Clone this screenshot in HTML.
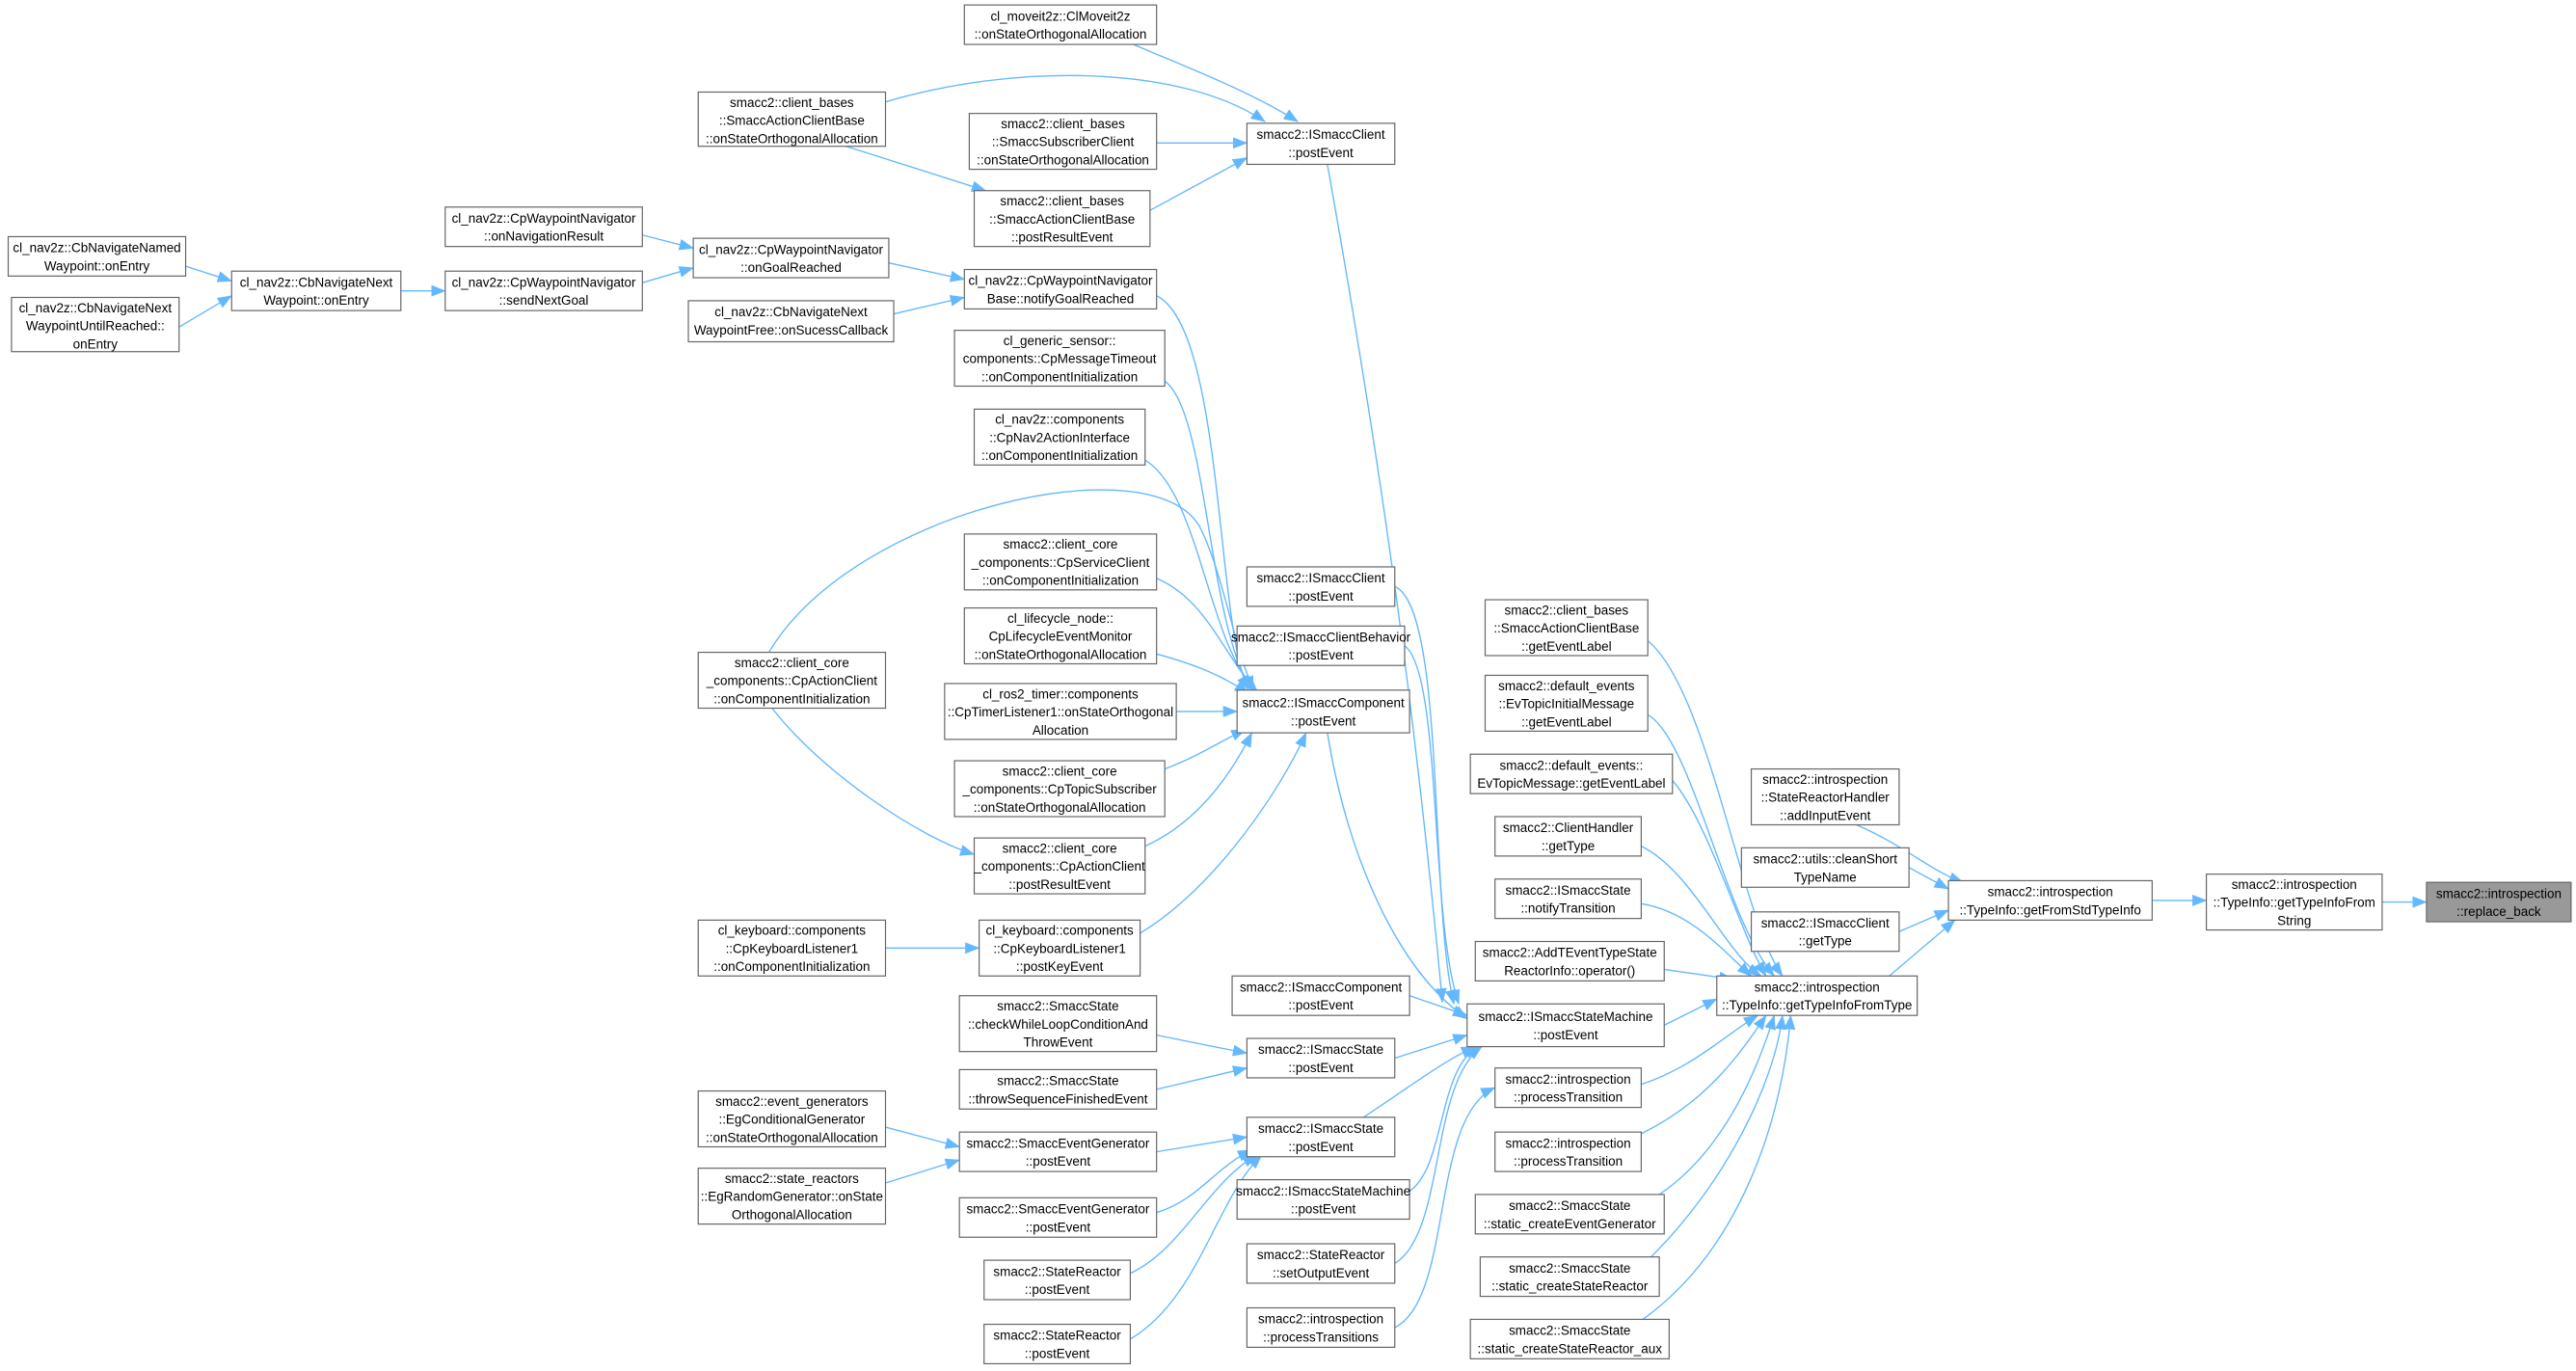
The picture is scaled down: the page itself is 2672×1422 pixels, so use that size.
<!DOCTYPE html>
<html><head><meta charset="utf-8"><style>
html,body{margin:0;padding:0;background:#fff;}
svg{display:block;}
rect{fill:#fff;stroke:#666;stroke-width:0.7;}
rect.g{fill:#999;}
text{font-family:"Liberation Sans",Arial,sans-serif;font-size:7.9px;fill:#000;text-anchor:middle;}
path.e{fill:none;stroke:#63b8ff;stroke-width:0.8;marker-end:url(#a);}
</style></head><body>
<svg width="2672" height="1422" viewBox="0 0 1568 834.4" xmlns="http://www.w3.org/2000/svg">
<defs><marker id="a" markerWidth="9" markerHeight="7" refX="8.5" refY="3.5" orient="auto" markerUnits="userSpaceOnUse"><path d="M0,0 L9,3.5 L0,7z" fill="#63b8ff"/></marker></defs>

<path class="e" d="M113,162 L141,171"/>
<path class="e" d="M109,199 L141,180"/>
<path class="e" d="M244,177 L271,177"/>
<path class="e" d="M391,143 L422,151"/>
<path class="e" d="M391,172 L422,163"/>
<path class="e" d="M541,160 L587,170"/>
<path class="e" d="M544,191 L587,181"/>
<path class="e" d="M690,27 C720,40 760,55 790,74"/>
<path class="e" d="M539,62 C620,38 720,40 770,74"/>
<path class="e" d="M704,87 L759,87"/>
<path class="e" d="M700,128 L759,96"/>
<path class="e" d="M515,89 L600,116"/>
<path class="e" d="M808,100 C840,280 860,420 878,610"/>
<path class="e" d="M704,180 C745,200 740,380 760,420"/>
<path class="e" d="M709,232 C735,250 735,380 762,420"/>
<path class="e" d="M697,280 C730,300 735,390 764,420"/>
<path class="e" d="M468,397 C520,310 700,270 730,320 C745,350 750,390 763,420"/>
<path class="e" d="M704,352 C735,365 745,400 765,420"/>
<path class="e" d="M704,398 C730,405 745,412 760,422"/>
<path class="e" d="M716,433 L753,433"/>
<path class="e" d="M709,468 C730,460 745,450 758,444"/>
<path class="e" d="M697,515 C730,500 750,470 762,446"/>
<path class="e" d="M694,568 C740,540 780,480 795,446"/>
<path class="e" d="M470,431 C500,470 560,510 593,520"/>
<path class="e" d="M539,577 L596,577"/>
<path class="e" d="M808,446 C820,520 850,590 893,620"/>
<path class="e" d="M849,357 C880,370 870,550 885,611"/>
<path class="e" d="M855,393 C878,410 870,560 888,611"/>
<path class="e" d="M858,606 L893,618"/>
<path class="e" d="M849,644 L893,630"/>
<path class="e" d="M830,680 C860,660 880,645 898,637"/>
<path class="e" d="M858,725 C880,710 875,650 900,637"/>
<path class="e" d="M849,769 C880,750 870,660 902,637"/>
<path class="e" d="M849,808 C885,790 870,680 910,662"/>
<path class="e" d="M704,630 L759,641"/>
<path class="e" d="M704,663 L759,650"/>
<path class="e" d="M539,686 L584,698"/>
<path class="e" d="M539,720 L584,706"/>
<path class="e" d="M704,701 L759,692"/>
<path class="e" d="M704,738 C730,730 740,710 762,700"/>
<path class="e" d="M688,775 C720,760 735,720 765,703"/>
<path class="e" d="M688,815 C730,790 740,730 768,703"/>
<path class="e" d="M1013,624 L1045,608"/>
<path class="e" d="M1003,390 C1040,420 1060,560 1085,594"/>
<path class="e" d="M1003,435 C1030,450 1050,560 1080,594"/>
<path class="e" d="M1018,475 C1040,500 1060,570 1075,594"/>
<path class="e" d="M999,515 C1030,530 1050,580 1072,594"/>
<path class="e" d="M999,550 C1030,555 1050,580 1066,594"/>
<path class="e" d="M1013,590 L1055,596"/>
<path class="e" d="M999,660 C1030,650 1050,630 1070,618"/>
<path class="e" d="M999,690 C1040,670 1060,640 1075,618"/>
<path class="e" d="M1010,727 C1050,700 1070,650 1080,618"/>
<path class="e" d="M1005,765 C1050,720 1080,660 1085,618"/>
<path class="e" d="M1000,803 C1060,760 1085,680 1090,618"/>
<path class="e" d="M1150,594 L1190,560"/>
<path class="e" d="M1130,502 C1160,515 1175,530 1195,537"/>
<path class="e" d="M1162,528 L1186,541"/>
<path class="e" d="M1156,567 L1186,554"/>
<path class="e" d="M1310,548 L1343,548"/>
<path class="e" d="M1450,549 L1477,549"/>

<rect x="5" y="144" width="108" height="24"/><text x="59" y="153.5">cl_nav2z::CbNavigateNamed</text><text x="59" y="164.5">Waypoint::onEntry</text>
<rect x="7" y="181" width="102" height="33"/><text x="58" y="190">cl_nav2z::CbNavigateNext</text><text x="58" y="201">WaypointUntilReached::</text><text x="58" y="212">onEntry</text>
<rect x="141" y="165" width="103" height="24"/><text x="192.5" y="174.5">cl_nav2z::CbNavigateNext</text><text x="192.5" y="185.5">Waypoint::onEntry</text>
<rect x="271" y="126" width="120" height="24"/><text x="331" y="135.5">cl_nav2z::CpWaypointNavigator</text><text x="331" y="146.5">::onNavigationResult</text>
<rect x="271" y="165" width="120" height="24"/><text x="331" y="174.5">cl_nav2z::CpWaypointNavigator</text><text x="331" y="185.5">::sendNextGoal</text>
<rect x="422" y="145" width="119" height="24"/><text x="481.5" y="154.5">cl_nav2z::CpWaypointNavigator</text><text x="481.5" y="165.5">::onGoalReached</text>
<rect x="419" y="183" width="125" height="25"/><text x="481.5" y="192.5">cl_nav2z::CbNavigateNext</text><text x="481.5" y="203.5">WaypointFree::onSucessCallback</text>
<rect x="425" y="56" width="114" height="33"/><text x="482" y="65">smacc2::client_bases</text><text x="482" y="76">::SmaccActionClientBase</text><text x="482" y="87">::onStateOrthogonalAllocation</text>
<rect x="587" y="3" width="117" height="24"/><text x="645.5" y="12.5">cl_moveit2z::ClMoveit2z</text><text x="645.5" y="23.5">::onStateOrthogonalAllocation</text>
<rect x="759" y="75" width="90" height="25"/><text x="804" y="84.5">smacc2::ISmaccClient</text><text x="804" y="95.5">::postEvent</text>
<rect x="590" y="69" width="114" height="34"/><text x="647" y="78">smacc2::client_bases</text><text x="647" y="89">::SmaccSubscriberClient</text><text x="647" y="100">::onStateOrthogonalAllocation</text>
<rect x="593" y="116" width="107" height="34"/><text x="646.5" y="125">smacc2::client_bases</text><text x="646.5" y="136">::SmaccActionClientBase</text><text x="646.5" y="147">::postResultEvent</text>
<rect x="587" y="164" width="117" height="24"/><text x="645.5" y="173.5">cl_nav2z::CpWaypointNavigator</text><text x="645.5" y="184.5">Base::notifyGoalReached</text>
<rect x="581" y="201" width="128" height="34"/><text x="645" y="210">cl_generic_sensor::</text><text x="645" y="221">components::CpMessageTimeout</text><text x="645" y="232">::onComponentInitialization</text>
<rect x="593" y="249" width="104" height="34"/><text x="645" y="258">cl_nav2z::components</text><text x="645" y="269">::CpNav2ActionInterface</text><text x="645" y="280">::onComponentInitialization</text>
<rect x="587" y="325" width="117" height="34"/><text x="645.5" y="334">smacc2::client_core</text><text x="645.5" y="345">_components::CpServiceClient</text><text x="645.5" y="356">::onComponentInitialization</text>
<rect x="587" y="370" width="117" height="34"/><text x="645.5" y="379">cl_lifecycle_node::</text><text x="645.5" y="390">CpLifecycleEventMonitor</text><text x="645.5" y="401">::onStateOrthogonalAllocation</text>
<rect x="575" y="416" width="141" height="34"/><text x="645.5" y="425">cl_ros2_timer::components</text><text x="645.5" y="436">::CpTimerListener1::onStateOrthogonal</text><text x="645.5" y="447">Allocation</text>
<rect x="581" y="463" width="128" height="34"/><text x="645" y="472">smacc2::client_core</text><text x="645" y="483">_components::CpTopicSubscriber</text><text x="645" y="494">::onStateOrthogonalAllocation</text>
<rect x="593" y="510" width="104" height="34"/><text x="645" y="519">smacc2::client_core</text><text x="645" y="530">_components::CpActionClient</text><text x="645" y="541">::postResultEvent</text>
<rect x="596" y="560" width="98" height="34"/><text x="645" y="569">cl_keyboard::components</text><text x="645" y="580">::CpKeyboardListener1</text><text x="645" y="591">::postKeyEvent</text>
<rect x="425" y="397" width="114" height="34"/><text x="482" y="406">smacc2::client_core</text><text x="482" y="417">_components::CpActionClient</text><text x="482" y="428">::onComponentInitialization</text>
<rect x="425" y="560" width="114" height="34"/><text x="482" y="569">cl_keyboard::components</text><text x="482" y="580">::CpKeyboardListener1</text><text x="482" y="591">::onComponentInitialization</text>
<rect x="759" y="345" width="90" height="24"/><text x="804" y="354.5">smacc2::ISmaccClient</text><text x="804" y="365.5">::postEvent</text>
<rect x="753" y="381" width="102" height="24"/><text x="804" y="390.5">smacc2::ISmaccClientBehavior</text><text x="804" y="401.5">::postEvent</text>
<rect x="753" y="420" width="105" height="26"/><text x="805.5" y="430.5">smacc2::ISmaccComponent</text><text x="805.5" y="441.5">::postEvent</text>
<rect x="584" y="606" width="120" height="34"/><text x="644" y="615">smacc2::SmaccState</text><text x="644" y="626">::checkWhileLoopConditionAnd</text><text x="644" y="637">ThrowEvent</text>
<rect x="584" y="651" width="120" height="24"/><text x="644" y="660.5">smacc2::SmaccState</text><text x="644" y="671.5">::throwSequenceFinishedEvent</text>
<rect x="425" y="664" width="114" height="34"/><text x="482" y="673">smacc2::event_generators</text><text x="482" y="684">::EgConditionalGenerator</text><text x="482" y="695">::onStateOrthogonalAllocation</text>
<rect x="425" y="711" width="114" height="34"/><text x="482" y="720">smacc2::state_reactors</text><text x="482" y="731">::EgRandomGenerator::onState</text><text x="482" y="742">OrthogonalAllocation</text>
<rect x="750" y="594" width="108" height="24"/><text x="804" y="603.5">smacc2::ISmaccComponent</text><text x="804" y="614.5">::postEvent</text>
<rect x="759" y="632" width="90" height="24"/><text x="804" y="641.5">smacc2::ISmaccState</text><text x="804" y="652.5">::postEvent</text>
<rect x="584" y="689" width="120" height="24"/><text x="644" y="698.5">smacc2::SmaccEventGenerator</text><text x="644" y="709.5">::postEvent</text>
<rect x="759" y="680" width="90" height="24"/><text x="804" y="689.5">smacc2::ISmaccState</text><text x="804" y="700.5">::postEvent</text>
<rect x="584" y="729" width="120" height="24"/><text x="644" y="738.5">smacc2::SmaccEventGenerator</text><text x="644" y="749.5">::postEvent</text>
<rect x="599" y="767" width="89" height="24"/><text x="643.5" y="776.5">smacc2::StateReactor</text><text x="643.5" y="787.5">::postEvent</text>
<rect x="599" y="806" width="89" height="24"/><text x="643.5" y="815.5">smacc2::StateReactor</text><text x="643.5" y="826.5">::postEvent</text>
<rect x="753" y="718" width="105" height="24"/><text x="805.5" y="727.5">smacc2::ISmaccStateMachine</text><text x="805.5" y="738.5">::postEvent</text>
<rect x="759" y="757" width="90" height="24"/><text x="804" y="766.5">smacc2::StateReactor</text><text x="804" y="777.5">::setOutputEvent</text>
<rect x="759" y="796" width="90" height="24"/><text x="804" y="805.5">smacc2::introspection</text><text x="804" y="816.5">::processTransitions</text>
<rect x="893" y="611" width="120" height="26"/><text x="953" y="621.5">smacc2::ISmaccStateMachine</text><text x="953" y="632.5">::postEvent</text>
<rect x="904" y="365" width="99" height="34"/><text x="953.5" y="374">smacc2::client_bases</text><text x="953.5" y="385">::SmaccActionClientBase</text><text x="953.5" y="396">::getEventLabel</text>
<rect x="904" y="411" width="99" height="34"/><text x="953.5" y="420">smacc2::default_events</text><text x="953.5" y="431">::EvTopicInitialMessage</text><text x="953.5" y="442">::getEventLabel</text>
<rect x="895" y="459" width="123" height="24"/><text x="956.5" y="468.5">smacc2::default_events::</text><text x="956.5" y="479.5">EvTopicMessage::getEventLabel</text>
<rect x="910" y="497" width="89" height="24"/><text x="954.5" y="506.5">smacc2::ClientHandler</text><text x="954.5" y="517.5">::getType</text>
<rect x="910" y="535" width="89" height="24"/><text x="954.5" y="544.5">smacc2::ISmaccState</text><text x="954.5" y="555.5">::notifyTransition</text>
<rect x="898" y="573" width="115" height="24"/><text x="955.5" y="582.5">smacc2::AddTEventTypeState</text><text x="955.5" y="593.5">ReactorInfo::operator()</text>
<rect x="910" y="650" width="89" height="24"/><text x="954.5" y="659.5">smacc2::introspection</text><text x="954.5" y="670.5">::processTransition</text>
<rect x="910" y="689" width="89" height="24"/><text x="954.5" y="698.5">smacc2::introspection</text><text x="954.5" y="709.5">::processTransition</text>
<rect x="898" y="727" width="115" height="24"/><text x="955.5" y="736.5">smacc2::SmaccState</text><text x="955.5" y="747.5">::static_createEventGenerator</text>
<rect x="901" y="765" width="109" height="24"/><text x="955.5" y="774.5">smacc2::SmaccState</text><text x="955.5" y="785.5">::static_createStateReactor</text>
<rect x="895" y="803" width="121" height="24"/><text x="955.5" y="812.5">smacc2::SmaccState</text><text x="955.5" y="823.5">::static_createStateReactor_aux</text>
<rect x="1066" y="468" width="90" height="34"/><text x="1111" y="477">smacc2::introspection</text><text x="1111" y="488">::StateReactorHandler</text><text x="1111" y="499">::addInputEvent</text>
<rect x="1060" y="516" width="102" height="24"/><text x="1111" y="525.5">smacc2::utils::cleanShort</text><text x="1111" y="536.5">TypeName</text>
<rect x="1066" y="555" width="90" height="24"/><text x="1111" y="564.5">smacc2::ISmaccClient</text><text x="1111" y="575.5">::getType</text>
<rect x="1045" y="594" width="122" height="24"/><text x="1106" y="603.5">smacc2::introspection</text><text x="1106" y="614.5">::TypeInfo::getTypeInfoFromType</text>
<rect x="1186" y="536" width="124" height="24"/><text x="1248" y="545.5">smacc2::introspection</text><text x="1248" y="556.5">::TypeInfo::getFromStdTypeInfo</text>
<rect x="1343" y="532" width="107" height="34"/><text x="1396.5" y="541">smacc2::introspection</text><text x="1396.5" y="552">::TypeInfo::getTypeInfoFrom</text><text x="1396.5" y="563">String</text>
<rect class="g" x="1477" y="537" width="88" height="24"/><text x="1521" y="546.5">smacc2::introspection</text><text x="1521" y="557.5">::replace_back</text>
</svg>
</body></html>
